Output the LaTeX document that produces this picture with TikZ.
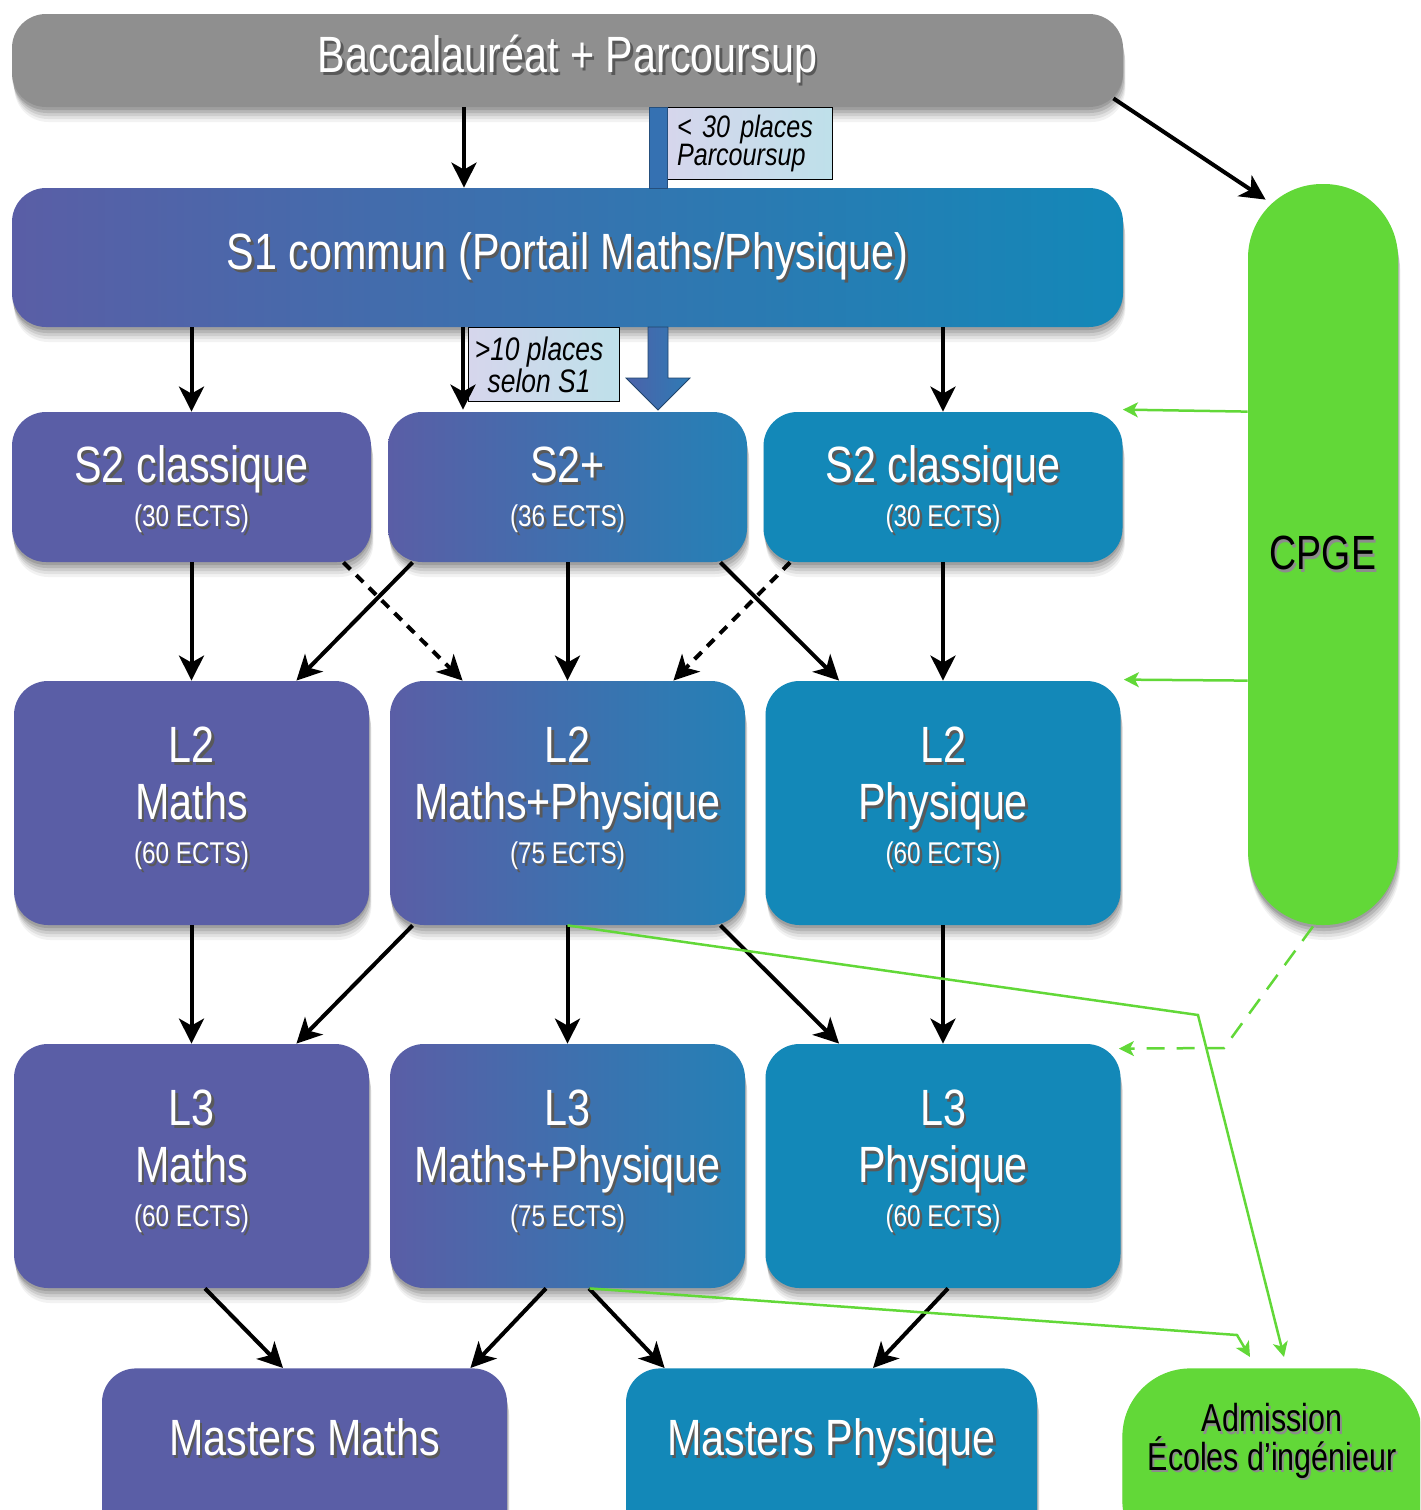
\documentclass[tikz,border=0pt]{standalone}
\usepackage{fontspec}
\setmainfont{Liberation Sans}[FakeStretch=0.81]
\newfontfamily\condfont{Liberation Sans}[FakeStretch=0.78]
\usetikzlibrary{arrows.meta,shadows,calc}
\definecolor{bacgray}{HTML}{8F8F8F}
\definecolor{purp}{HTML}{5A5EA6}
\definecolor{blu}{HTML}{1388B8}
\definecolor{midblu}{HTML}{2481B6}
\definecolor{grn}{HTML}{62D838}
\definecolor{fatblue}{HTML}{3571B2}
\definecolor{fatL}{HTML}{4C62A9}
\definecolor{fatR}{HTML}{2E7BB5}
\definecolor{lblL}{HTML}{D6D6EC}
\definecolor{lblR}{HTML}{BEE0EA}
\newcommand\tsh[1]{\makebox[0pt][l]{\hspace{1.3pt}\raisebox{-1.5pt}{\textcolor{black!65}{#1}}}#1}
\newcommand\tshk[1]{\makebox[0pt][l]{\hspace{1pt}\raisebox{-1.2pt}{\textcolor{black!45}{#1}}}#1}
\newcommand\ects[1]{{\fontsize{15}{21}\selectfont\tsh{#1}}}
\newcommand\ectsL[1]{{\fontsize{15}{21}\selectfont\tsh{#1}\rule[-7.7pt]{0pt}{1pt}}}
\newcommand\topS{\rule{0pt}{21.6pt}}
\tikzset{
  softshadow/.style={
    drop shadow={shadow xshift=0pt,shadow yshift=-1.5pt,opacity=0.12,fill=black},
    drop shadow={shadow xshift=0.5pt,shadow yshift=-3pt,opacity=0.11,fill=black},
    drop shadow={shadow xshift=0.8pt,shadow yshift=-4.5pt,opacity=0.09,fill=black},
    drop shadow={shadow xshift=1pt,shadow yshift=-6pt,opacity=0.07,fill=black},
    drop shadow={shadow xshift=1.2pt,shadow yshift=-7.5pt,opacity=0.05,fill=black}},
  box/.style={rectangle, rounded corners=17pt, softshadow, text=white, align=center, inner sep=0pt,
    font=\fontsize{25.5}{21}\selectfont},
  bigbox/.style={box, font=\fontsize{25.5}{28.5}\selectfont},
  s2size/.style={minimum width=179.5pt, minimum height=75pt},
  lsize/.style={minimum width=177.5pt, minimum height=122pt},
  lbl/.style={rectangle, draw=black, line width=0.6pt, left color=lblL, right color=lblR,
    inner sep=0pt, font=\fontsize{15.5}{14}\selectfont\itshape},
  arr/.style={line width=2pt, -{Stealth[length=12.5pt,width=12.5pt,inset=3.5pt]}},
  darr/.style={arr, dash pattern=on 5pt off 4pt},
  garr/.style={draw=grn, line width=1.25pt, -{Stealth[length=7.5pt,width=7.5pt,inset=2pt]}},
  gdarr/.style={garr, dash pattern=on 9pt off 6pt}
}
\begin{document}
\begin{tikzpicture}[x=0.5pt,y=-0.5pt]
\useasboundingbox (0,0) rectangle (1420,1510);
\clip (0,0) rectangle (1420,1510);

% main boxes
\node[box, fill=bacgray, minimum width=555.5pt, minimum height=46.5pt] (bac) at (567.5,60.5) {\tsh{Baccalauréat + Parcoursup}};
\node[box, left color=purp, right color=blu, minimum width=555.5pt, minimum height=69.5pt] (s1) at (567.5,257.5) {\tsh{S1 commun (Portail Maths/Physique)}};

\node[box, fill=purp, s2size] (s2l) at (191.5,487) {\topS\tsh{S2 classique}\\[1pt] \ects{(30 ECTS)}};
\node[box, left color=purp, right color=midblu, s2size] (s2p) at (567.5,487) {\topS\tsh{S2+}\\[1pt] \ects{(36 ECTS)}};
\node[box, fill=blu, s2size] (s2r) at (943,487) {\topS\tsh{S2 classique}\\[1pt] \ects{(30 ECTS)}};

\node[bigbox, fill=purp, lsize] (l2m) at (191.5,803) {\tsh{L2}\\ \tsh{Maths}\\[-6.5pt] \ectsL{(60 ECTS)}};
\node[bigbox, left color=purp, right color=midblu, lsize] (l2mp) at (567.5,803) {\tsh{L2}\\ \tsh{Maths+Physique}\\[-6.5pt] \ectsL{(75 ECTS)}};
\node[bigbox, fill=blu, lsize] (l2p) at (943,803) {\tsh{L2}\\ \tsh{Physique}\\[-6.5pt] \ectsL{(60 ECTS)}};

\node[bigbox, fill=purp, lsize] (l3m) at (191.5,1166) {\tsh{L3}\\ \tsh{Maths}\\[-6.5pt] \ectsL{(60 ECTS)}};
\node[bigbox, left color=purp, right color=midblu, lsize] (l3mp) at (567.5,1166) {\tsh{L3}\\ \tsh{Maths+Physique}\\[-6.5pt] \ectsL{(75 ECTS)}};
\node[bigbox, fill=blu, lsize] (l3p) at (943,1166) {\tsh{L3}\\ \tsh{Physique}\\[-6.5pt] \ectsL{(60 ECTS)}};

\node[box, fill=purp, minimum width=202.5pt, minimum height=90pt, anchor=north] (mm) at (304.5,1368) {};
\node[text=white, font=\fontsize{25.5}{28}\selectfont, inner sep=0pt, anchor=base] (mmt) at (304.5,1455) {\tsh{Masters Maths}};
\node[box, fill=blu, minimum width=205.5pt, minimum height=90pt, anchor=north] (mp) at (831.5,1368) {};
\node[text=white, font=\fontsize{25.5}{28}\selectfont, inner sep=0pt, anchor=base] (mpt) at (831.5,1455) {\tsh{Masters Physique}};

\node[box, fill=grn, rounded corners=37pt, minimum width=75pt, minimum height=370.5pt, text=black,
  font=\condfont\fontsize{24}{24}\selectfont] (cpge) at (1323,554.5) {\tshk{CPGE}};
\node[box, fill=grn, rounded corners=34pt, minimum width=150pt, minimum height=100pt, anchor=north west] (adm) at (1122,1368) {};
\node[text=black, align=center, inner sep=0pt, font=\condfont\fontsize{19.5}{16.5}\selectfont] (admt) at (1272,1442) {\tshk{Admission}\\ \tshk{Écoles d’ingénieur}};

% labels
\node[lbl, anchor=north west, minimum width=82.5pt, minimum height=36pt, text width=73pt, align=left] (lab1) at (667,107) {< 30 places\\Parcoursup};
\node[lbl, anchor=north west, minimum width=75.5pt, minimum height=37pt, align=center,
  font=\fontsize{16.3}{14}\selectfont\itshape] (lab2) at (468,327) {>10 places\kern5pt\\selon S1\kern5pt};

% fat arrows
\path[fill=fatblue, draw=fatblue!70!black, line width=0.4pt] (649,107) rectangle (667,188);
\path[left color=fatL, right color=fatR, draw=fatblue!60!black, line width=0.4pt]
  (648,327) -- (668,327) -- (668,378) -- (690,378) -- (658,410) -- (626,378) -- (648,378) -- cycle;

% black arrows
\draw[arr] ($(bac.south)+(-103.5,0)$) -- ($(s1.north)+(-103.5,0)$);
\draw[arr] ($(bac.south east)+(-10,-9)$) -- ($(cpge.north west)+(18,16)$);
\draw[arr] (s1.south -| s2l.south) -- (s2l.north);
\draw[arr] ($(s1.south)+(-104.5,0)$) -- ($(s2p.north)+(-104.5,-2)$);
\draw[arr] (s1.south -| s2r.south) -- (s2r.north);

\draw[arr] (s2l.south) -- (l2m.north);
\draw[darr] ($(s2l.south east)+(-28,0)$) -- ($(l2mp.north west)+(73,0)$);
\draw[arr] ($(s2p.south west)+(25,0)$) -- ($(l2m.north east)+(-73,0)$);
\draw[arr] (s2p.south) -- (l2mp.north);
\draw[arr] ($(s2p.south east)+(-27,0)$) -- ($(l2p.north west)+(74,0)$);
\draw[darr] ($(s2r.south west)+(27,0)$) -- ($(l2mp.north east)+(-72,0)$);
\draw[arr] (s2r.south) -- (l2p.north);

\draw[arr] (l2m.south) -- (l3m.north);
\draw[arr] ($(l2mp.south west)+(23,0)$) -- ($(l3m.north east)+(-73,0)$);
\draw[arr] (l2mp.south) -- (l3mp.north);
\draw[arr] ($(l2mp.south east)+(-25,0)$) -- ($(l3p.north west)+(74,0)$);
\draw[arr] (l2p.south) -- (l3p.north);

\draw[arr] ($(l3m.south)+(13.5,0)$) -- ($(mm.north)+(-21.5,0)$);
\draw[arr] ($(l3mp.south)+(-21.5,0)$) -- ($(mm.north east)+(-37,0)$);
\draw[arr] ($(l3mp.south)+(21.5,0)$) -- ($(mp.north west)+(39,0)$);
\draw[arr] ($(l3p.south)+(5,0)$) -- ($(mp.north)+(41.5,0)$);

% green connectors
\draw[garr] (cpge.west |- s2r.north) -- ($(s2r.north east)+(0,-2)$);
\draw[garr] (cpge.west |- l2p.north) -- ($(l2p.north east)+(3,-1)$);
\coordinate (cbend) at (1224,1048);
\draw[gdarr] ($(cpge.south)+(-10,1)$) -- (cbend) -- ($(l3p.north east)+(-2,5)$);
\coordinate (gb1) at (1198,1015);
\coordinate (ga1) at (1284,1357);
\draw[garr] (l2mp.south) -- (gb1) -- (ga1);
\coordinate (gb2) at (1237,1335);
\coordinate (ga2) at (1250,1357);
\draw[garr] ($(l3mp.south)+(22,0)$) -- (gb2) -- (ga2);
\end{tikzpicture}
\end{document}
